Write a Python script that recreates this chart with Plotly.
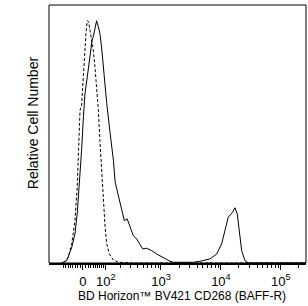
import numpy as np
import plotly.graph_objects as go

# Raw fluorescence intensities (BV421) and normalised counts
stained_x = [-91, -66, -44, -31, -22, -18, -5, 2, 8, 17, 25, 30, 36, 41, 48, 55, 63, 70, 78, 87, 96, 105,
             125, 146, 158, 183, 213, 235, 265, 301, 339, 388, 443, 492, 574, 700, 848, 1093, 1415, 1606,
             3458, 4479, 6565, 8495, 10280, 11670, 13240, 15710, 17140, 18720, 20240, 22190, 25180, 28580, 262144]
stained_y = [0, 0.01, 0.065, 0.12, 0.203, 0.258, 0.465, 0.603, 0.699, 0.768, 0.837, 0.879, 0.92, 0.934, 0.975,
             1.0, 0.975, 0.948, 0.892, 0.81, 0.727, 0.658, 0.534, 0.423, 0.334, 0.272, 0.217, 0.175, 0.182,
             0.148, 0.113, 0.099, 0.079, 0.058, 0.061, 0.051, 0.037, 0.021, 0.007, 0.003, 0.003, 0.007, 0.017,
             0.037, 0.079, 0.134, 0.189, 0.21, 0.228, 0.203, 0.12, 0.051, 0.01, 0, 0]

isotype_x = [-83, -59, -44, -31, -22, -14, -11, -5, 2, 8, 12, 17, 22, 28, 34, 41, 48, 55, 63, 70, 78, 87,
             96, 105, 120, 146, 183, 339, 262144]
isotype_y = [0, 0.023, 0.079, 0.175, 0.313, 0.506, 0.63, 0.651, 0.754, 0.879, 0.948, 1.0, 0.996, 0.961,
             0.927, 0.879, 0.81, 0.727, 0.63, 0.506, 0.382, 0.258, 0.148, 0.079, 0.037, 0.012, 0.003, 0, 0]

major_ticks = [0, 100, 1000, 10000, 100000]
major_labels = ["0", "10<sup>2</sup>", "10<sup>3</sup>", "10<sup>4</sup>", "10<sup>5</sup>"]
minor_ticks = ([-80, -70, -60, -50, -40, -30, -20, -10] + list(range(10, 100, 10)) +
               list(range(200, 1000, 100)) + list(range(2000, 10000, 1000)) +
               list(range(20000, 100000, 10000)) + [200000])
x_limits = [-170, 262144]
x_title = "BD Horizon™ BV421 CD268 (BAFF-R)"
y_title = "Relative Cell Number"

COF = 100.0


def biex(v):
    v = np.asarray(v, dtype=float)
    return np.arcsinh(v / COF) / np.log(10)


fig = go.Figure()
fig.add_trace(go.Scatter(x=biex(isotype_x), y=isotype_y, mode="lines",
                         line=dict(color="black", width=1, dash="3px,2px"), showlegend=False))
fig.add_trace(go.Scatter(x=biex(stained_x), y=stained_y, mode="lines",
                         line=dict(color="black", width=1), showlegend=False))

fig.update_layout(
    width=308, height=306,
    margin=dict(l=49, r=2, t=5, b=43),
    paper_bgcolor="white", plot_bgcolor="white",
    font=dict(family="Liberation Sans, Arial, sans-serif", size=13, color="black"),
    shapes=[dict(type="rect", xref="paper", yref="paper", x0=0, y0=0, x1=1, y1=1,
                 line=dict(color="black", width=1), layer="above")],
    annotations=[
        dict(text=x_title, xref="paper", yref="paper", x=0.517, y=0, yanchor="middle",
             yshift=-33, showarrow=False, font=dict(size=12)),
        dict(text=y_title, xref="paper", yref="paper", x=0, y=0.542, xanchor="right",
             xshift=-6, textangle=-90, showarrow=False, font=dict(size=14)),
    ],
)
fig.update_xaxes(
    range=list(biex(x_limits)), showgrid=False, zeroline=False,
    showline=True, linecolor="black", linewidth=2,
    tickmode="array", tickvals=list(biex(major_ticks)), ticktext=major_labels,
    ticks="outside", ticklen=5, tickwidth=1, tickcolor="black",
    tickfont=dict(size=13),
    minor=dict(tickmode="array", tickvals=list(biex(minor_ticks)), ticks="outside",
               ticklen=3, tickwidth=1, tickcolor="black", showgrid=False),
)
fig.update_yaxes(
    range=[0, 1.065], showgrid=False, zeroline=False, showticklabels=False, ticks="",
    showline=False,
)

fig.write_html("out.html")
